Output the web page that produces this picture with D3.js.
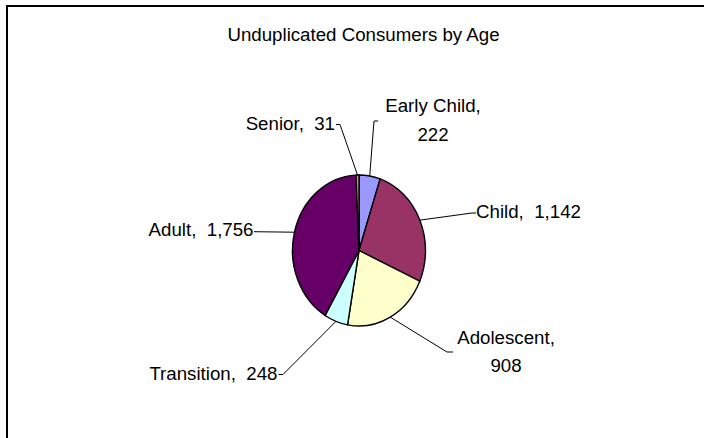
<!DOCTYPE html>
<html>
<head>
<meta charset="utf-8">
<script src="https://cdn.jsdelivr.net/npm/d3@7"></script>
<style>
  body { margin: 0; background: #fff; }
  svg { display: block; }
  text { font-family: "Liberation Sans", Arial, sans-serif; font-size: 18.7px; fill: #000; white-space: pre; }
</style>
</head>
<body>
<svg id="chart" width="704" height="438"></svg>
<script>
// ---- data ----
const title = "Unduplicated Consumers by Age";
const categories = ["Early Child", "Child", "Adolescent", "Transition", "Adult", "Senior"];
const values = [222, 1142, 908, 248, 1756, 31];
const colors = ["#9999FF", "#993366", "#FFFFCC", "#CCFFFF", "#660066", "#FF8080"];

// ---- layout (label placement, not data) ----
const labelLayout = [
  { anchor: "middle", x: 433, y: 112, split: true,  elbow: [374, 121], end: [378, 121] },
  { anchor: "start",  x: 476, y: 217.5, split: false, elbow: [472, 213], end: [476, 213] },
  { anchor: "middle", x: 506, y: 343.5, split: true,  elbow: [447, 352], end: [453, 352] },
  { anchor: "end",    x: 277.5, y: 380, split: false, elbow: [283, 374.5], end: [278.5, 374.5] },
  { anchor: "end",    x: 253.5, y: 235.5, split: false, elbow: null, end: [254, 231.7] },
  { anchor: "end",    x: 335, y: 130, split: false, elbow: [340, 124.5], end: [336, 124.5] }
];

const W = 704, H = 438;
const cx = 359, cy = 250.5, rx = 66.5, ry = 75.5;
const lineGap = 28.5;

const svg = d3.select("#chart");

// frame (only top/left visible in the picture)
svg.append("rect")
  .attr("x", 7).attr("y", 6).attr("width", 760).attr("height", 480)
  .attr("fill", "none").attr("stroke", "#000").attr("stroke-width", 2);

// title
svg.append("text")
  .attr("x", 363.5).attr("y", 41)
  .attr("text-anchor", "middle")
  .text(title);

const data = categories.map((c, i) => ({ category: c, value: values[i], color: colors[i] }));

const pie = d3.pie().value(d => d.value).sort(null);
const arcs = pie(data);
const arc = d3.arc().innerRadius(0).outerRadius(ry);

const pg = svg.append("g")
  .attr("transform", `translate(${cx},${cy}) scale(${rx / ry},1)`);

pg.selectAll("path")
  .data(arcs)
  .join("path")
  .attr("d", arc)
  .attr("fill", d => d.data.color)
  .attr("stroke", "#000")
  .attr("stroke-width", 1.4)
  .attr("vector-effect", "non-scaling-stroke");

const fmt = d3.format(",");

// leader lines
const edgePoint = a => {
  const m = (a.startAngle + a.endAngle) / 2;
  return [cx + rx * Math.sin(m), cy - ry * Math.cos(m)];
};

svg.append("g").selectAll("polyline")
  .data(arcs)
  .join("polyline")
  .attr("points", (a, i) => {
    const L = labelLayout[i];
    const pts = [edgePoint(a)];
    if (L.elbow) pts.push(L.elbow);
    pts.push(L.end);
    return pts.map(p => p.join(",")).join(" ");
  })
  .attr("fill", "none")
  .attr("stroke", "#000")
  .attr("stroke-width", 1);

// labels
const lg = svg.append("g");
arcs.forEach((a, i) => {
  const L = labelLayout[i];
  const lines = L.split
    ? [a.data.category + ",", fmt(a.data.value)]
    : [a.data.category + ",  " + fmt(a.data.value)];
  const t = lg.append("text")
    .attr("text-anchor", L.anchor);
  lines.forEach((s, k) => {
    t.append("tspan")
      .attr("x", L.x)
      .attr("y", L.y + k * lineGap)
      .text(s);
  });
});
</script>
</body>
</html>
